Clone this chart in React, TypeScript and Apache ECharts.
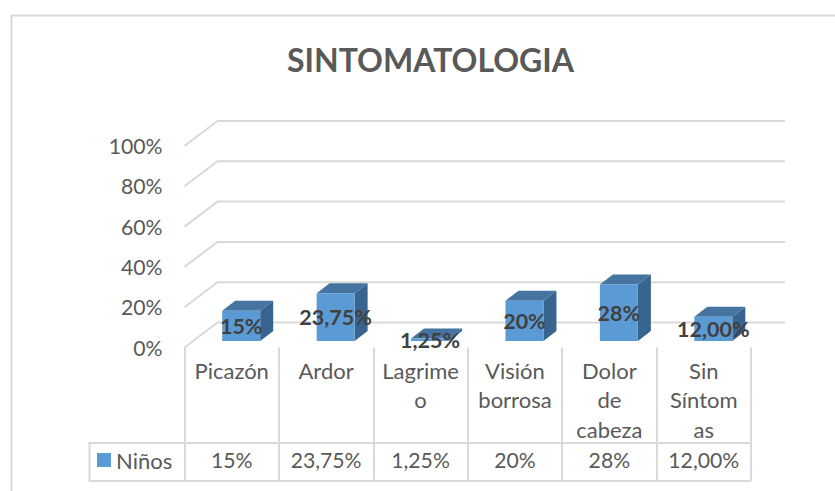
import React, { useEffect, useRef } from "react";
import * as echarts from "echarts";

const titleText = "SINTOMATOLOGIA";
const seriesName = "Niños";
const categories = ["Picazón", "Ardor", "Lagrime\no", "Visión\nborrosa", "Dolor\nde\ncabeza", "Sin\nSíntom\nas"];
const values = [15, 23.75, 1.25, 20, 28, 12];
const valueLabels = ["15%", "23,75%", "1,25%", "20%", "28%", "12,00%"];
const gridTicks = [0, 20, 40, 60, 80, 100];

const FONT = "Lato, Carlito, Calibri, sans-serif";
const GREY = "#595959";
const LINE = "#D9D9D9";
const BLUE = "#5B9BD5";

export default function App() {
  const ref = useRef<HTMLDivElement>(null);
  useEffect(() => {
    const chart = echarts.init(ref.current!, null, { renderer: "svg" });
    const gridLeft = 184.5;
    const gridRight = 751;
    const gridTop = 146;
    const gridBottom = 347.5;
    const depthX = 33;
    const depthY = 25;
    const barW = 38;
    const barShiftX = 9.5;
    const barShiftY = 6.5;
    const barDX = 13;
    const barDY = 10;

    chart.setOption({
      animation: false,
      backgroundColor: "#fff",
      title: {
        text: titleText,
        left: 425.5,
        top: 38,
        textAlign: "center",
        textStyle: { fontFamily: FONT, fontWeight: "bold", fontSize: 32, color: GREY },
      },
      legend: {
        data: [seriesName],
        left: 97,
        top: 449,
        icon: "rect",
        itemWidth: 14,
        itemHeight: 14,
        itemGap: 6,
        padding: 0,
        textStyle: { fontFamily: FONT, fontSize: 22, color: GREY, padding: [0, 0, 0, 0] },
      },
      grid: {
        left: gridLeft,
        top: gridTop,
        width: gridRight - gridLeft,
        height: gridBottom - gridTop,
      },
      xAxis: [
        {
          type: "category",
          data: categories,
          position: "bottom",
          axisLine: { show: false },
          axisTick: { show: true, length: 133.5, alignWithLabel: false, lineStyle: { color: LINE, width: 2 } },
          axisLabel: {
            interval: 0,
            margin: 8,
            fontFamily: FONT,
            fontSize: 22,
            lineHeight: 29.5,
            color: GREY,
            verticalAlign: "top",
          },
        },
        {
          type: "category",
          data: valueLabels,
          position: "bottom",
          offset: 98,
          axisLine: { show: false },
          axisTick: { show: false },
          axisLabel: { interval: 0, margin: 0, fontFamily: FONT, fontSize: 21.2, color: GREY, verticalAlign: "top", lineHeight: 29 },
        },
      ],
      yAxis: {
        type: "value",
        min: 0,
        max: 100,
        interval: 20,
        axisLine: { show: false },
        axisTick: { show: false },
        splitLine: { show: false },
        axisLabel: {
          margin: 22,
          fontFamily: FONT,
          fontSize: 21.2,
          color: GREY,
          padding: [0, 0, 2, 0],
          formatter: "{value}%",
        },
      },
      graphic: [
        {
          type: "polyline",
          silent: true,
          shape: { points: [[11.5, 491], [11.5, 15.5], [835, 15.5]] },
          style: { stroke: LINE, lineWidth: 2, fill: "none" },
        },
        {
          type: "polyline",
          silent: true,
          shape: { points: [[gridLeft, 443], [89.5, 443], [89.5, 481], [gridRight, 481]] },
          style: { stroke: LINE, lineWidth: 2, fill: "none" },
        },
        {
          type: "line",
          silent: true,
          shape: { x1: gridLeft, y1: 443, x2: gridRight, y2: 443 },
          style: { stroke: LINE, lineWidth: 2 },
        },
      ],
      series: [
        {
          type: "custom",
          name: "grid3d",
          coordinateSystem: "cartesian2d",
          clip: false,
          silent: true,
          z: 1,
          data: gridTicks.map((t) => [0, t]),
          encode: { x: 0, y: 1 },
          renderItem: (_p: any, api: any) => {
            const y = api.coord([0, api.value(1)])[1];
            return {
              type: "polyline",
              shape: {
                points: [
                  [gridLeft, y],
                  [gridLeft + depthX, y - depthY],
                  [785, y - depthY],
                ],
              },
              style: { stroke: LINE, lineWidth: 2, fill: "none" },
            };
          },
        },
        {
          type: "custom",
          name: seriesName,
          coordinateSystem: "cartesian2d",
          clip: false,
          z: 3,
          itemStyle: { color: BLUE },
          data: values.map((v, i) => [i, v]),
          encode: { x: 0, y: 1 },
          renderItem: (params: any, api: any) => {
            const i = api.value(0);
            const v = api.value(1);
            const base = api.coord([i, 0]);
            const top = api.coord([i, v]);
            const x0 = base[0] + barShiftX - barW / 2;
            const x1 = x0 + barW;
            const y0 = base[1] - barShiftY;
            const y1 = top[1] - barShiftY;
            return {
              type: "group",
              children: [
                {
                  type: "polygon",
                  shape: { points: [[x1, y0], [x1 + barDX, y0 - barDY], [x1 + barDX, y1 - barDY], [x1, y1]] },
                  style: { fill: "#386490" },
                },
                {
                  type: "polygon",
                  shape: { points: [[x0, y1], [x1, y1], [x1 + barDX, y1 - barDY], [x0 + barDX, y1 - barDY]] },
                  style: { fill: "#44749F" },
                },
                {
                  type: "rect",
                  shape: { x: x0, y: y1, width: barW, height: y0 - y1 },
                  style: { fill: BLUE },
                },
                {
                  type: "text",
                  z2: 10,
                  style: {
                    x: (x0 + x1) / 2,
                    y: (y0 + y1) / 2,
                    text: valueLabels[params.dataIndex],
                    align: "center",
                    verticalAlign: "middle",
                    font: `bold 21.5px ${FONT}`,
                    fill: "#404040",
                  },
                },
              ],
            };
          },
        },
      ],
    });
    return () => chart.dispose();
  }, []);
  return <div ref={ref} style={{ position: "absolute", left: 0, top: 0, width: 835, height: 491 }} />;
}
